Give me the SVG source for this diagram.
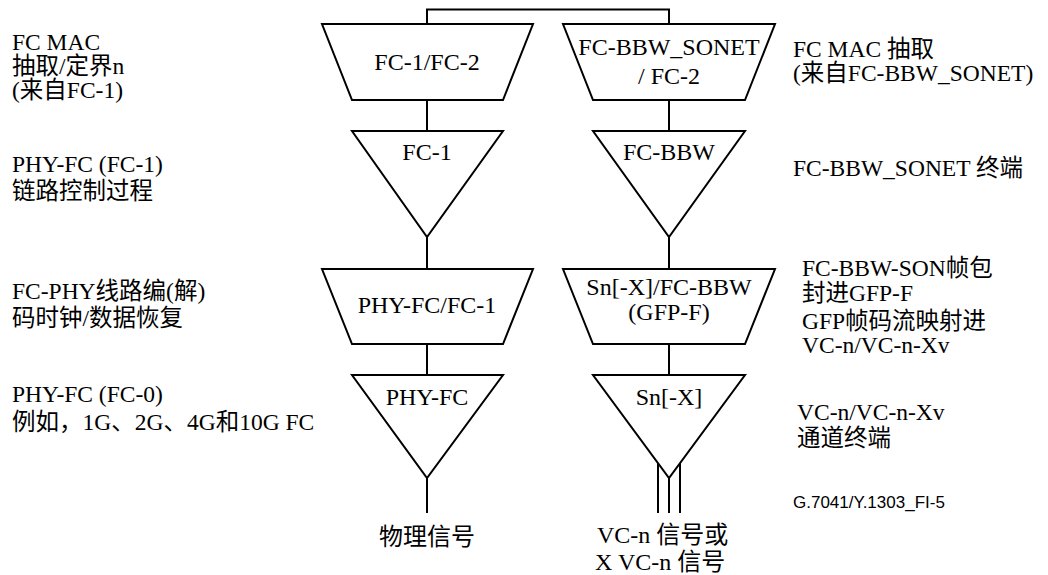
<svg xmlns="http://www.w3.org/2000/svg" width="1048" height="575" viewBox="0 0 1048 575">
<style>
.s{fill:#fff;stroke:#000;stroke-width:2;stroke-linejoin:miter}
.c line,.c polyline{stroke:#000;stroke-width:2;fill:none}
text{font-family:"Liberation Serif","Noto Sans CJK SC",serif;font-size:24px;fill:#000}
.m{text-anchor:middle}
.l{font-size:23.5px}
.f{font-family:"Liberation Sans",Arial,sans-serif;font-size:17px}
</style>
<rect width="1048" height="575" fill="#fff"/>
<g id="connectors" class="c">
<polyline points="427,24 427,9.5 669,9.5 669,24"/>
<line x1="427" y1="100" x2="427" y2="131"/>
<line x1="669" y1="100" x2="669" y2="131"/>
<line x1="427" y1="237" x2="427" y2="269"/>
<line x1="669" y1="237" x2="669" y2="269"/>
<line x1="427" y1="344" x2="427" y2="375"/>
<line x1="669" y1="344" x2="669" y2="375"/>
<line x1="427" y1="478" x2="427" y2="513"/>
<line x1="669" y1="478" x2="669" y2="513"/>
<line x1="658" y1="463" x2="658" y2="513"/>
<line x1="680" y1="463" x2="680" y2="513"/>
</g>
<g id="fc12">
<polygon class="s" points="322,24 533,24 503,100 352,100"/>
<text class="m" x="427" y="70">FC-1/FC-2</text>
</g>
<g id="fc1">
<polygon class="s" points="352,131 503,131 427,237"/>
<text class="m" x="427" y="160">FC-1</text>
</g>
<g id="phyfc-fc1">
<polygon class="s" points="322,269 533,269 503,344 352,344"/>
<text class="m" x="427" y="313">PHY-FC/FC-1</text>
</g>
<g id="phyfc">
<polygon class="s" points="352,375 503,375 427,478"/>
<text class="m" x="427" y="405">PHY-FC</text>
</g>
<g id="bbw-fc2">
<polygon class="s" points="563,24 775,24 745,100 593,100"/>
<text class="m" x="669" y="55">FC-BBW_SONET</text>
<text class="m" x="669" y="84">/ FC-2</text>
</g>
<g id="fcbbw">
<polygon class="s" points="593,131 745,131 669,237"/>
<text class="m" x="669" y="160">FC-BBW</text>
</g>
<g id="sn-bbw">
<polygon class="s" points="563,269 775,269 745,344 593,344"/>
<text class="m" x="669" y="295">Sn[-X]/FC-BBW</text>
<text class="m" x="669" y="320">(GFP-F)</text>
</g>
<g id="snx">
<polygon class="s" points="593,375 745,375 669,478"/>
<text class="m" x="669" y="405">Sn[-X]</text>
</g>
<g id="out-left">
<text class="m" x="427" y="545">物理信号</text>
</g>
<g id="out-right">
<text x="597" y="543">VC-n 信号或</text>
<text x="595" y="570">X VC-n 信号</text>
</g>
<g id="labels-left">
<text class="l" x="12" y="50">FC MAC</text>
<text class="l" x="12" y="74">抽取/定界n</text>
<text class="l" x="12" y="98">(来自FC-1)</text>
<text class="l" x="12" y="172">PHY-FC (FC-1)</text>
<text class="l" x="12" y="199">链路控制过程</text>
<text class="l" x="12" y="299">FC-PHY线路编(解)</text>
<text class="l" x="12" y="326">码时钟/数据恢复</text>
<text class="l" x="12" y="402">PHY-FC (FC-0)</text>
<text class="l" x="12" y="430">例如，1G、2G、4G和10G FC</text>
</g>
<g id="labels-right">
<text class="l" x="793" y="57">FC MAC 抽取</text>
<text class="l" x="793" y="81">(来自FC-BBW_SONET)</text>
<text class="l" x="793" y="176">FC-BBW_SONET 终端</text>
<text class="l" x="802" y="276">FC-BBW-SON帧包</text>
<text class="l" x="802" y="301">封进GFP-F</text>
<text class="l" x="802" y="329">GFP帧码流映射进</text>
<text class="l" x="802" y="353">VC-n/VC-n-Xv</text>
<text class="l" x="797" y="420">VC-n/VC-n-Xv</text>
<text class="l" x="797" y="446">通道终端</text>
</g>
<g id="figid">
<text class="f" x="793" y="508">G.7041/Y.1303_FI-5</text>
</g>
</svg>
